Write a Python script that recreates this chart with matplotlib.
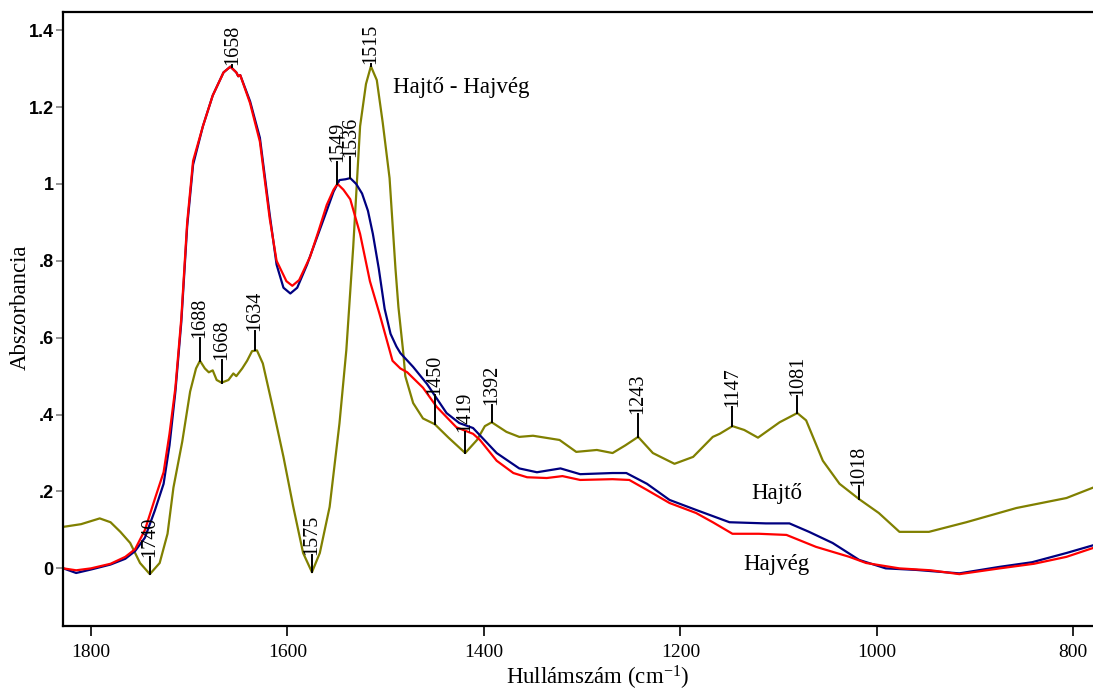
import matplotlib
matplotlib.use('Agg')
import matplotlib.pyplot as plt

# Hajvég (piros)
wn_vég = [1828, 1815, 1800, 1780, 1765, 1755, 1745, 1735, 1726, 1720, 1714, 1708, 1702, 1696,
          1686, 1676, 1665, 1658, 1652, 1650, 1648, 1638, 1628, 1618, 1611, 1601, 1595, 1588,
          1577, 1568, 1560, 1553, 1549, 1543, 1536, 1526, 1516, 1506, 1493, 1485, 1478, 1462,
          1448, 1428, 1411, 1404, 1387, 1370, 1356, 1336, 1320, 1302, 1269, 1252, 1234, 1211,
          1184, 1167, 1147, 1120, 1092, 1062, 1028, 1011, 977, 945, 916, 875, 840, 807, 780]
abs_vég = [0.0, -0.005, 0.0, 0.012, 0.03, 0.05, 0.10, 0.18, 0.25, 0.35, 0.47, 0.65, 0.90, 1.06,
           1.15, 1.23, 1.29, 1.305, 1.29, 1.28, 1.283, 1.21, 1.11, 0.91, 0.80, 0.747, 0.735, 0.75,
           0.81, 0.88, 0.945, 0.985, 1.0, 0.985, 0.96, 0.87, 0.747, 0.66, 0.54, 0.52, 0.51, 0.47,
           0.42, 0.367, 0.35, 0.334, 0.28, 0.248, 0.237, 0.235, 0.24, 0.23, 0.232, 0.23, 0.204, 0.17,
           0.144, 0.12, 0.09, 0.09, 0.087, 0.056, 0.03, 0.014, 0.0, -0.005, -0.015, 0.0, 0.012, 0.03, 0.053]

# Hajtő (kék)
wn_tő = [1828, 1815, 1800, 1780, 1765, 1755, 1745, 1735, 1726, 1720, 1714, 1708, 1702, 1696,
         1686, 1676, 1665, 1658, 1652, 1650, 1648, 1638, 1628, 1618, 1611, 1604, 1597, 1590,
         1580, 1570, 1560, 1553, 1547, 1541, 1536, 1530, 1524, 1518, 1513, 1507, 1501, 1495,
         1489, 1485, 1472, 1458, 1438, 1425, 1411, 1387, 1364, 1346, 1322, 1302, 1269, 1255,
         1234, 1211, 1184, 1150, 1113, 1089, 1069, 1045, 1018, 991, 960, 916, 875, 842, 807, 780]
abs_tő = [0.0, -0.012, -0.003, 0.01, 0.025, 0.045, 0.08, 0.15, 0.22, 0.32, 0.46, 0.64, 0.89, 1.05,
          1.15, 1.23, 1.29, 1.305, 1.29, 1.28, 1.283, 1.215, 1.12, 0.92, 0.79, 0.73, 0.715, 0.73,
          0.79, 0.86, 0.93, 0.98, 1.01, 1.012, 1.015, 1.0, 0.975, 0.93, 0.87, 0.78, 0.675, 0.61,
          0.577, 0.56, 0.524, 0.48, 0.404, 0.378, 0.365, 0.30, 0.26, 0.25, 0.26, 0.245, 0.248, 0.248,
          0.22, 0.178, 0.152, 0.12, 0.117, 0.117, 0.095, 0.066, 0.022, 0.0, -0.004, -0.013, 0.004, 0.016, 0.04, 0.06]

# Hajtő - Hajvég (különbség)
wn_diff = [1828, 1810, 1791, 1780, 1770, 1760, 1750, 1740, 1730, 1722, 1716, 1707, 1699, 1693,
           1689, 1684, 1680, 1676, 1672, 1667, 1660, 1655, 1652, 1646, 1641, 1636, 1631, 1625,
           1615, 1604, 1594, 1584, 1575, 1567, 1557, 1547, 1540, 1533, 1526, 1520, 1515, 1509,
           1503, 1496, 1490, 1487, 1482, 1480, 1472, 1462, 1450, 1436, 1419, 1407, 1399, 1392,
           1377, 1364, 1350, 1323, 1306, 1285, 1269, 1256, 1243, 1228, 1206, 1187, 1167, 1160,
           1147, 1135, 1121, 1099, 1081, 1072, 1055, 1038, 1018, 998, 977, 947, 909, 858, 807, 780]
abs_diff = [0.108, 0.115, 0.13, 0.12, 0.095, 0.066, 0.014, -0.015, 0.014, 0.09, 0.21, 0.33, 0.46, 0.52,
            0.54, 0.52, 0.51, 0.515, 0.49, 0.483, 0.49, 0.507, 0.50, 0.52, 0.54, 0.565, 0.567, 0.533,
            0.42, 0.29, 0.16, 0.04, -0.01, 0.04, 0.16, 0.377, 0.568, 0.836, 1.15, 1.26, 1.306, 1.27,
            1.16, 1.015, 0.78, 0.68, 0.56, 0.50, 0.43, 0.39, 0.375, 0.34, 0.30, 0.334, 0.37, 0.38,
            0.355, 0.342, 0.345, 0.334, 0.303, 0.308, 0.30, 0.32, 0.342, 0.30, 0.272, 0.29, 0.342, 0.35,
            0.37, 0.36, 0.34, 0.38, 0.404, 0.385, 0.28, 0.22, 0.18, 0.144, 0.095, 0.095, 0.12, 0.157, 0.183, 0.21]

# csúcsok: felirat, hullámszám, abszorbancia, jelölővonal hossza
peak_labels = ['1658', '1515', '1549', '1536', '1688', '1668', '1634', '1740', '1575',
               '1450', '1419', '1392', '1243', '1147', '1081', '1018']
peak_wn = [1656, 1515, 1549, 1536, 1689, 1667, 1633, 1740, 1575,
           1450, 1419, 1392, 1243, 1147, 1081, 1018]
peak_abs = [1.305, 1.306, 1.0, 1.015, 0.54, 0.483, 0.567, -0.015, -0.01,
            0.375, 0.30, 0.38, 0.342, 0.37, 0.404, 0.18]
peak_stem = [0.005, 0.005, 0.057, 0.055, 0.06, 0.06, 0.05, 0.045, 0.045,
             0.075, 0.055, 0.045, 0.06, 0.05, 0.045, 0.035]

serif = 'Liberation Serif'
plt.rcParams['mathtext.fontset'] = 'custom'
plt.rcParams['mathtext.rm'] = serif
plt.rcParams['mathtext.default'] = 'rm'

fig = plt.figure(figsize=(10.93, 6.91), dpi=100)
ax = fig.add_axes([0.058, 0.094, 0.942, 0.888])

ax.plot(wn_diff, abs_diff, color='#808000', lw=1.6)
ax.plot(wn_tő, abs_tő, color='#000080', lw=1.6)
ax.plot(wn_vég, abs_vég, color='#ff0000', lw=1.6)

for lab, x, y, s in zip(peak_labels, peak_wn, peak_abs, peak_stem):
    ax.plot([x, x], [y, y + s], color='black', lw=1.4)
    ax.text(x, y + s, lab, rotation=90, ha='center', va='bottom',
            fontsize=14.5, family=serif)

ax.text(1493, 1.25, 'Hajtő - Hajvég', fontsize=16.5, family=serif, va='center')
ax.text(1128, 0.196, 'Hajtő', fontsize=16.5, family=serif, va='center')
ax.text(1136, 0.01, 'Hajvég', fontsize=16.5, family=serif, va='center')

ax.set_xlim(1828, 780)
ax.set_ylim(-0.15, 1.446)
ax.set_xticks([1800, 1600, 1400, 1200, 1000, 800])
ax.set_xticklabels(['1800', '1600', '1400', '1200', '1000', '800'], family=serif, fontsize=14)
ax.set_yticks([0, 0.2, 0.4, 0.6, 0.8, 1.0, 1.2, 1.4])
ax.set_yticklabels(['0', '.2', '.4', '.6', '.8', '1', '1.2', '1.4'],
                   family='Liberation Sans', fontweight='bold', fontsize=13)
ax.tick_params(axis='x', direction='out', length=7, width=1.2, pad=6)
ax.tick_params(axis='y', direction='out', length=5, width=1.2, color='grey', pad=2)

ax.spines['right'].set_visible(False)
for side in ['left', 'bottom', 'top']:
    ax.spines[side].set_linewidth(1.6)

ax.set_xlabel('Hullámszám (cm$^{-1}$)', family=serif, fontsize=16.5)
ax.set_ylabel('Abszorbancia', family=serif, fontsize=16.5)
ax.xaxis.set_label_coords(0.519, -0.062)
ax.yaxis.set_label_coords(-0.032, 0.52)

fig.savefig('out.png', dpi=100)
